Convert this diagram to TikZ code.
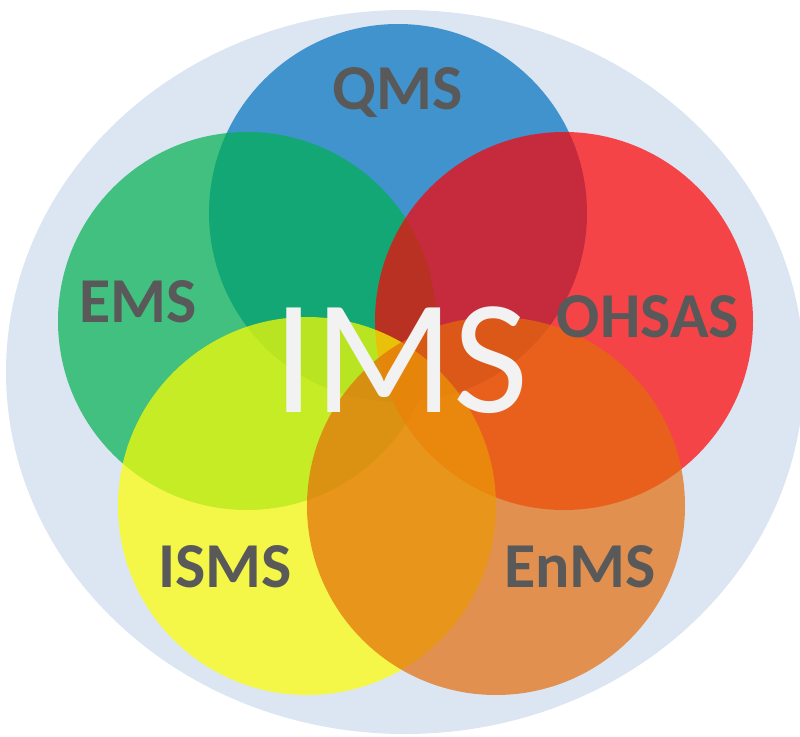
\documentclass[tikz,border=0pt]{standalone}
\usepackage{fontspec}
\setmainfont{Carlito}
\definecolor{bgblue}{RGB}{220,230,242}
\definecolor{cblue}{RGB}{0,112,192}
\definecolor{cgreen}{RGB}{0,176,80}
\definecolor{cred}{RGB}{255,0,0}
\definecolor{cyellow}{RGB}{255,255,0}
\definecolor{corange}{RGB}{228,108,10}
\definecolor{labelgray}{RGB}{89,89,89}
\definecolor{imswhite}{RGB}{242,242,242}
\tikzset{
  ring/.style={circle, draw=none, inner sep=0pt, minimum size=378pt, fill opacity=0.7, fill=#1},
  lbl/.style={anchor=base, inner sep=0pt, text=labelgray, font=\bfseries\fontsize{64}{70}\selectfont},
  big/.style={anchor=base, inner sep=0pt, text=imswhite, font=\fontsize{163}{170}\selectfont}
}
\begin{document}
\begin{tikzpicture}[x=1pt,y=-1pt]
\useasboundingbox (0,0) rectangle (800,736);
\begin{scope}
\clip (0,0) rectangle (800,736);
\fill[bgblue] (405,372) ellipse [x radius=399pt, y radius=362pt];
\end{scope}
\node[ring=cblue] (cqms) at (398,213) {};
\node[ring=cgreen] (cems) at (247,321) {};
\node[ring=cred] (cohsas) at (564,321) {};
\node[ring=cyellow] (cisms) at (307,506) {};
\node[ring=corange] (cenms) at (496,506) {};
\node[lbl] (tqms) at (398,109) {QMS};
\node[lbl] (tems) at (138,322) {EMS};
\node[lbl] (tohsas) at (648,337) {OHSAS};
\node[lbl] (tisms) at (225,587) {ISMS};
\node[lbl] (tenms) at (580,587) {EnMS};
\node[big] (tims) at (401,412) {IMS};
\end{tikzpicture}
\end{document}
